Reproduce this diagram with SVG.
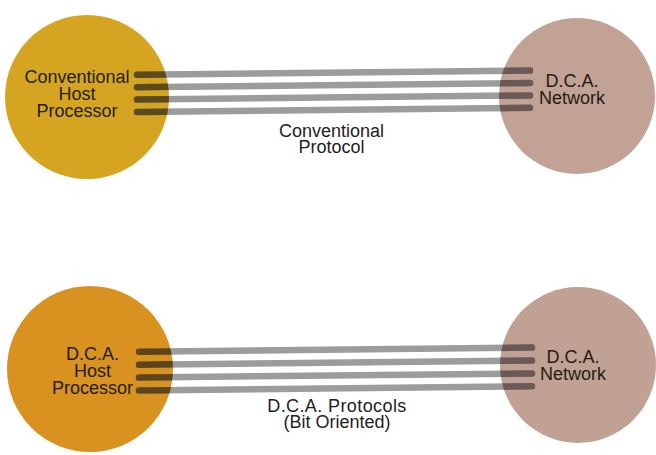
<svg xmlns="http://www.w3.org/2000/svg" width="656" height="455" viewBox="0 0 656 455">
  <style>
    .lbl { font-family: "Liberation Sans", Arial, Helvetica, sans-serif; font-size: 18px; text-anchor: middle; fill: #231d12; }
    .cap { fill: #222222; }
    .wire { fill: none; stroke-width: 6.5; stroke-linecap: round; }
    .gray { stroke: #9c9c9c; }
    .dk-gold { stroke: #5d4a1b; }
    .dk-orange { stroke: #5f4418; }
    .dk-tan { stroke: #6b5955; }
  </style>
  <defs>
    <clipPath id="clip-host1"><circle cx="87" cy="97" r="82"/></clipPath>
    <clipPath id="clip-net1"><circle cx="577" cy="96" r="78"/></clipPath>
    <clipPath id="clip-host2"><circle cx="90" cy="369" r="83"/></clipPath>
    <clipPath id="clip-net2"><circle cx="578" cy="365" r="78"/></clipPath>
    <!-- line bundles, reused for the gray run and the darker parts over the circles -->
    <g id="bundle1">
      <line x1="137" y1="74.8" x2="530" y2="70.6"/>
      <line x1="137" y1="87.2" x2="530" y2="83.0"/>
      <line x1="137" y1="99.6" x2="530" y2="95.4"/>
      <line x1="137" y1="112.0" x2="530" y2="107.8"/>
    </g>
    <g id="bundle2">
      <line x1="139" y1="351.8" x2="532" y2="347.6"/>
      <line x1="139" y1="364.7" x2="532" y2="360.5"/>
      <line x1="139" y1="377.6" x2="532" y2="373.4"/>
      <line x1="139" y1="390.5" x2="532" y2="386.3"/>
    </g>
  </defs>

  <rect width="656" height="455" fill="#ffffff"/>

  <!-- upper pair -->
  <g id="conventional-host">
    <circle cx="87" cy="97" r="82" fill="#d5a420"/>
    <text class="lbl"><tspan x="77" y="83.3">Conventional</tspan><tspan x="77" y="100.2">Host</tspan><tspan x="77" y="117">Processor</tspan></text>
  </g>
  <g id="dca-network-1">
    <circle cx="577" cy="96" r="78" fill="#c1a294"/>
    <text class="lbl"><tspan x="572" y="86.7">D.C.A.</tspan><tspan x="572" y="103.5">Network</tspan></text>
  </g>

  <!-- lower pair -->
  <g id="dca-host">
    <circle cx="90" cy="369" r="83" fill="#d9911f"/>
    <text class="lbl"><tspan x="92.5" y="359.5">D.C.A.</tspan><tspan x="92.5" y="376.8">Host</tspan><tspan x="92.5" y="394.2">Processor</tspan></text>
  </g>
  <g id="dca-network-2">
    <circle cx="578" cy="365" r="78" fill="#c0a194"/>
    <text class="lbl"><tspan x="573" y="363">D.C.A.</tspan><tspan x="573" y="380">Network</tspan></text>
  </g>

  <!-- protocol links -->
  <g id="connectors">
    <g id="link-conventional">
      <use href="#bundle1" class="wire gray"/>
      <g clip-path="url(#clip-host1)"><use href="#bundle1" class="wire dk-gold"/></g>
      <g clip-path="url(#clip-net1)"><use href="#bundle1" class="wire dk-tan"/></g>
      <text class="lbl cap"><tspan x="331.5" y="136.7">Conventional</tspan><tspan x="331.5" y="153.3">Protocol</tspan></text>
    </g>
    <g id="link-dca">
      <use href="#bundle2" class="wire gray"/>
      <g clip-path="url(#clip-host2)"><use href="#bundle2" class="wire dk-orange"/></g>
      <g clip-path="url(#clip-net2)"><use href="#bundle2" class="wire dk-tan"/></g>
      <text class="lbl cap"><tspan x="337" y="411.7" letter-spacing="0.4">D.C.A. Protocols</tspan><tspan x="337" y="428">(Bit Oriented)</tspan></text>
    </g>
  </g>
</svg>
